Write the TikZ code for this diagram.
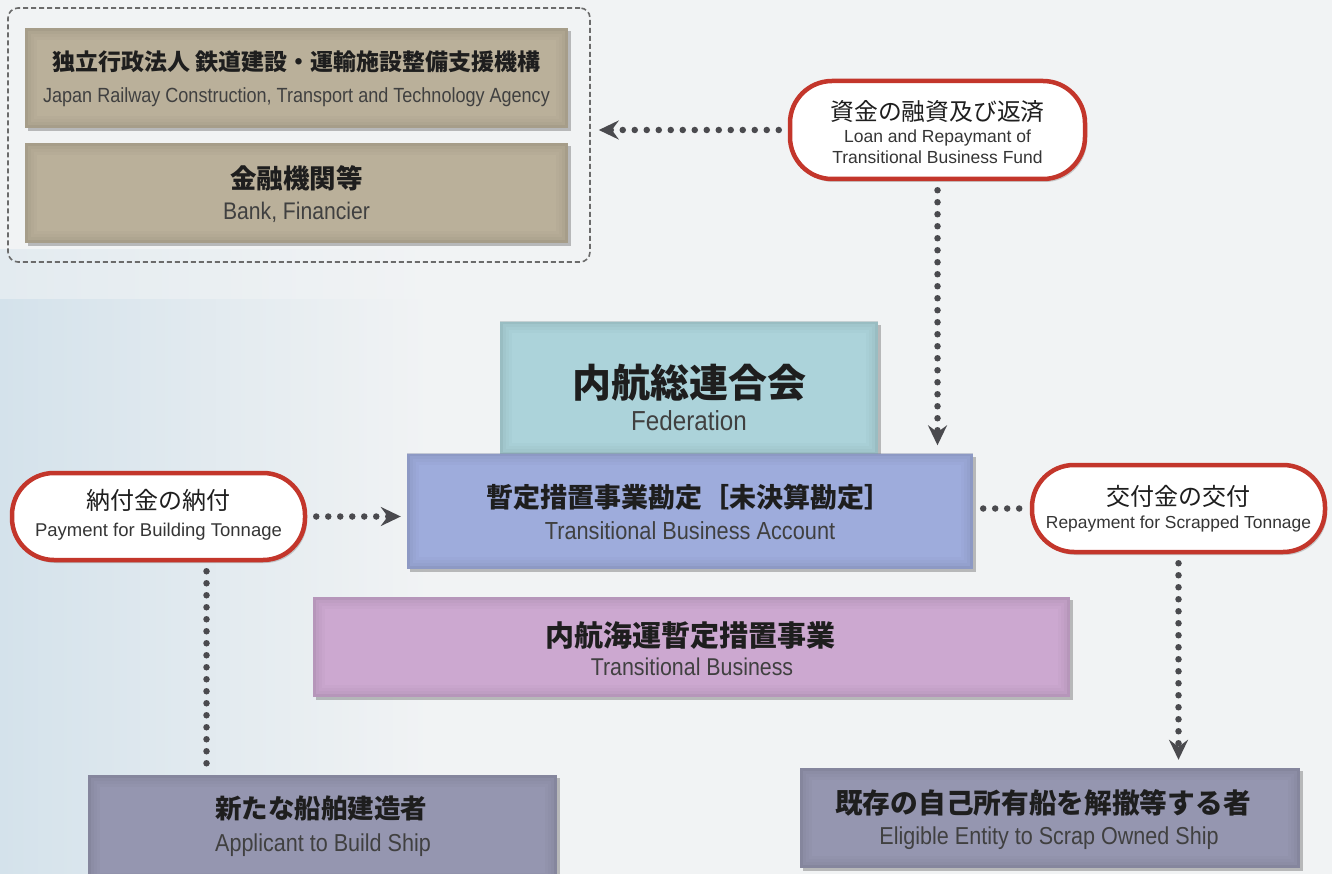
\documentclass[tikz,border=0pt]{standalone}
\usepackage{fontspec}
\setmainfont{Liberation Sans}
\newfontfamily\jp{Noto Sans CJK JP}
\newfontfamily\en{Liberation Sans}[FakeStretch=0.88]
\newfontfamily\enw{Liberation Sans}
\usetikzlibrary{arrows.meta,shadows}
\definecolor{bgA}{HTML}{F1F3F4}
\definecolor{bgB}{HTML}{D4E2EB}
\definecolor{bgM}{HTML}{E3EBF0}
\definecolor{tan}{HTML}{BAB09A}
\definecolor{teal}{HTML}{ACD3DA}
\definecolor{acct}{HTML}{9EACDC}
\definecolor{pink}{HTML}{CCA8D0}
\definecolor{slate}{HTML}{9596B0}
\definecolor{pillred}{HTML}{C3362B}
\definecolor{dotc}{HTML}{4A4A4E}
\definecolor{ink}{HTML}{1E1E1E}
\newcommand\vign[2]{%
  \foreach \d/\o in {1.5/.35,4.5/.2,7.5/.12,10.5/.06}{%
    \draw[#2!70!black, draw opacity=\o, line width=3pt]
      ([shift={(\d,\d)}]#1.north west) rectangle ([shift={(-\d,-\d)}]#1.south east);}}
\begin{document}
\begin{tikzpicture}[x=1pt,y=-1pt,
  panel/.style={fill=#1, draw=none, inner sep=0pt,
     drop shadow={shadow xshift=3pt,shadow yshift=-3pt,opacity=.35,fill=black!70}},
  pill/.style={draw=pillred, line width=4.5pt, fill=white, rounded corners=42pt, inner sep=0pt,
     drop shadow={shadow xshift=2pt,shadow yshift=-3pt,opacity=.25,fill=black!70}},
  jpt/.style={text=ink, inner sep=0pt, font=\jp\fontsize{#1}{#1}\selectfont},
  jpb/.style={text=ink, inner sep=0pt, font=\jp\bfseries\fontsize{#1}{#1}\selectfont},
  ent/.style={text=ink!85, inner sep=0pt, font=\en\fontsize{#1}{#1}\selectfont},
  enp/.style={text=ink!90, inner sep=0pt, font=\enw\fontsize{#1}{#1}\selectfont},
  dotline/.style={draw=dotc, line width=6.5pt, line cap=round, dash pattern=on 0pt off 12pt},
  tip/.style={-{Stealth[length=20pt,width=19pt,inset=7pt,fill=dotc]}}
]
\useasboundingbox (0,0) rectangle (1332,874);
% background
\fill[bgA] (0,0) rectangle (1332,874);
\shade[left color=bgM, right color=bgA] (0,250) rectangle (430,300);
\shade[left color=bgB, right color=bgA] (0,300) rectangle (430,874);

% enclosure
\node[draw=black!58, line width=1.6pt, dash pattern=on 5pt off 3pt, rounded corners=10pt,
      minimum width=582pt, minimum height=254pt, inner sep=0pt] (enc) at (299,135) {};

% tan boxes
\node[panel=tan, minimum width=543pt, minimum height=100pt] (jr) at (296.5,78) {};
\vign{jr}{tan}
\node[jpb=23] (jrj) at (296.5,62) {独立行政法人 鉄道建設・運輸施設整備支援機構};
\node[ent=20.5] (jre) at (296.5,97) {Japan Railway Construction, Transport and Technology Agency};

\node[panel=tan, minimum width=543pt, minimum height=100pt] (bank) at (296.5,193) {};
\vign{bank}{tan}
\node[jpb=26.5] (bankj) at (296.5,178) {金融機関等};
\node[ent=24] (banke) at (296.5,212) {Bank, Financier};

% loan pill
\node[pill, minimum width=295pt, minimum height=98pt] (loan) at (937.5,130) {};
\node[jpt=23.8] (loanj) at (937.5,112) {資金の融資及び返済};
\node[enp=17.5] (loane1) at (937.5,138) {Loan and Repaymant of};
\node[enp=17.5] (loane2) at (937.5,157) {Transitional Business Fund};

% federation
\node[panel=teal, minimum width=378pt, minimum height=133pt] (fed) at (689,388) {};
\vign{fed}{teal}
\node[jpb=39] (fedj) at (689,383) {内航総連合会};
\node[ent=27.5] (fede) at (689,421) {Federation};

% account
\node[panel=acct, minimum width=566pt, minimum height=115pt] (acc) at (690,511) {};
\vign{acc}{acct}
\node[jpb=27] (accj) at (689,497) {暫定措置事業勘定［未決算勘定］};
\node[ent=24.7] (acce) at (690,531) {Transitional Business Account};

% transitional business
\node[panel=pink, minimum width=757pt, minimum height=100pt] (tb) at (691.5,647) {};
\vign{tb}{pink}
\node[jpb=29] (tbj) at (690,636) {内航海運暫定措置事業};
\node[ent=24.3] (tbe) at (692,667) {Transitional Business};

% payment pill
\node[pill, minimum width=293pt, minimum height=87pt] (pay) at (158.5,516.5) {};
\node[jpt=24] (payj) at (158.5,500) {納付金の納付};
\node[enp=18.5] (paye) at (158.5,532) {Payment for Building Tonnage};

% repayment pill
\node[pill, minimum width=293pt, minimum height=87pt] (rep) at (1178.5,508.5) {};
\node[jpt=24] (repj) at (1178.5,496) {交付金の交付};
\node[enp=17.4] (repe) at (1178.5,524) {Repayment for Scrapped Tonnage};

% bottom boxes
\node[panel=slate, minimum width=469pt, minimum height=110pt] (app) at (322.5,830) {};
\vign{app}{slate}
\node[jpb=26.5] (appj) at (321,808) {新たな船舶建造者};
\node[ent=24.5] (appe) at (323,845) {Applicant to Build Ship};

\node[panel=slate, minimum width=500pt, minimum height=100pt] (elig) at (1050,818) {};
\vign{elig}{slate}
\node[jpb=27.7] (eligj) at (1043,803) {既存の自己所有船を解撤等する者};
\node[ent=24.5] (elige) at (1049,838) {Eligible Entity to Scrap Owned Ship};

% connectors
\draw[dotline, tip, shorten <=9pt, shorten >=8pt] (loan.west) -- (loan.west -| enc.east);
\draw[dotline, tip, shorten <=9pt, shorten >=8pt] (loan.south) -- (loan.south |- acc.north);
\draw[dotline, tip, shorten <=9pt, shorten >=6pt] (pay.east) -- (pay.east -| acc.west);
\draw[dotline, shorten <=9pt] ([xshift=48pt]pay.south) -- ([xshift=48pt]pay.south |- app.north);
\draw[dotline, shorten <=10pt, shorten >=6pt] (acc.east |- rep.west) -- (rep.west);
\draw[dotline, tip, shorten <=9pt, shorten >=8pt] (rep.south) -- (rep.south |- elig.north);
\end{tikzpicture}
\end{document}
